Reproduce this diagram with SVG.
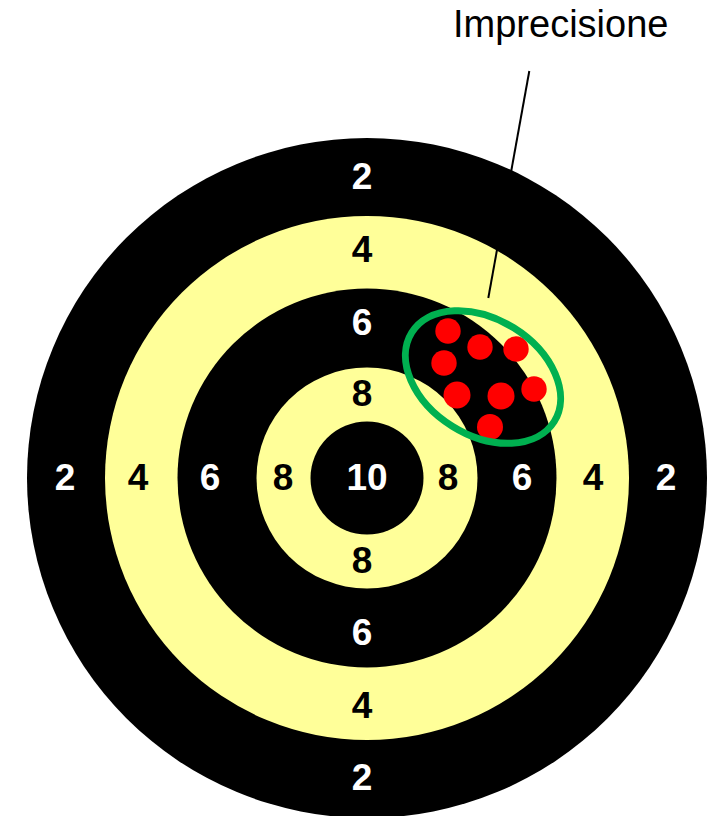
<svg xmlns="http://www.w3.org/2000/svg" width="714" height="816" viewBox="0 0 714 816">
<style>
.n{font-family:"Liberation Sans",Arial,sans-serif;font-weight:bold;font-size:37px;text-anchor:middle}
.w{fill:#fff}
.k{fill:#000}
.hit{fill:#ff0000}
</style>
<rect width="714" height="816" fill="#fff"/>
<g id="target">
<circle cx="367" cy="478" r="340" fill="#000"/>
<circle cx="367" cy="478" r="262" fill="#ffff99"/>
<circle cx="367" cy="478" r="189.5" fill="#000"/>
<circle cx="367" cy="478" r="110.5" fill="#ffff99"/>
<circle cx="367" cy="478" r="56.5" fill="#000"/>
</g>
<g id="labels">
<text class="n w" x="362" y="189">2</text>
<text class="n k" x="362" y="262">4</text>
<text class="n w" x="362" y="335">6</text>
<text class="n k" x="362" y="406">8</text>
<text class="n k" x="362" y="573">8</text>
<text class="n w" x="362" y="645">6</text>
<text class="n k" x="362" y="718">4</text>
<text class="n w" x="362" y="790">2</text>
<text class="n w" x="65" y="490">2</text>
<text class="n k" x="138" y="490">4</text>
<text class="n w" x="210" y="490">6</text>
<text class="n k" x="283" y="490">8</text>
<text class="n w" x="367" y="490">10</text>
<text class="n k" x="448" y="490">8</text>
<text class="n w" x="522" y="490">6</text>
<text class="n k" x="593" y="490">4</text>
<text class="n w" x="666" y="490">2</text>
</g>
<g id="hits">
<circle class="hit" cx="448" cy="331" r="12.7"/>
<circle class="hit" cx="480" cy="347" r="12.7"/>
<circle class="hit" cx="516" cy="349" r="12.7"/>
<circle class="hit" cx="444" cy="363" r="12.7"/>
<circle class="hit" cx="457" cy="395" r="13.5"/>
<circle class="hit" cx="501" cy="396" r="13.5"/>
<circle class="hit" cx="534" cy="389" r="12.7"/>
<circle class="hit" cx="490" cy="427" r="13"/>
</g>
<g id="cluster">
<ellipse cx="483" cy="377" rx="84" ry="58" transform="rotate(32 483 377)" fill="none" stroke="#00b050" stroke-width="7"/>
</g>
<g id="connectors">
<line x1="529.3" y1="71" x2="488.3" y2="298" stroke="#000" stroke-width="2"/>
</g>
<g id="callout">
<text x="453" y="37" font-family="'Liberation Sans',Arial,sans-serif" font-size="38" fill="#000">Imprecisione</text>
</g>
</svg>
